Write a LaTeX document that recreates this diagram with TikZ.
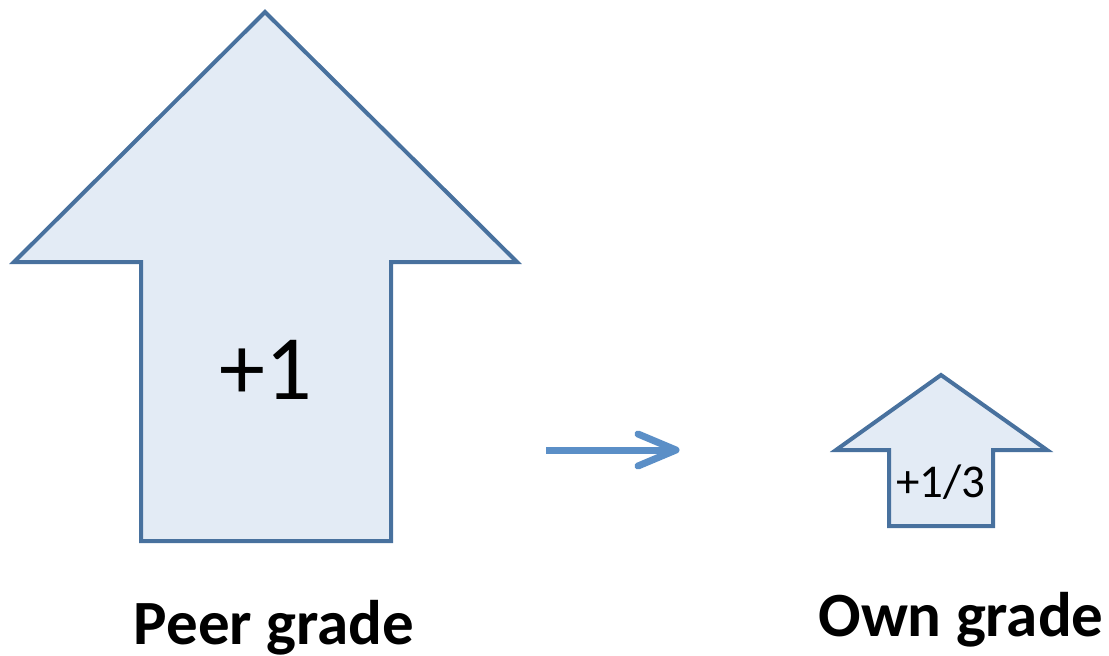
\documentclass[tikz,border=0pt]{standalone}
\usepackage{fontspec}
\setmainfont{Carlito}
\usetikzlibrary{calc}
\definecolor{outline}{RGB}{72,113,158}
\definecolor{fillblue}{RGB}{227,235,245}
\definecolor{linkblue}{RGB}{91,143,199}
\tikzset{
  uparrow/.style={draw=outline, fill=fillblue, line width=4pt, line join=miter},
  link/.style={draw=linkblue, line width=7pt},
  barb/.style={draw=linkblue, line width=7pt, line cap=round, line join=round},
  caption/.style={font=\bfseries\fontsize{63}{63}\selectfont, inner sep=0pt}
}
\begin{document}
\begin{tikzpicture}[x=1pt, y=-1pt]
  \useasboundingbox (0,0) rectangle (1109,656);
  % large block arrow
  \draw[uparrow] (265,12) -- (517,262) -- (391,262) -- (391,541)
    -- (141,541) -- (141,262) -- (14,262) -- cycle;
  \node[font=\fontsize{92}{92}\selectfont, inner sep=0pt] (peer) at (266,370) {+1};
  % small block arrow
  \draw[uparrow] (941,375) -- (1047,450) -- (993,450) -- (993,526)
    -- (889,526) -- (889,450) -- (836,450) -- cycle;
  \node[font=\fontsize{47}{47}\selectfont, inner sep=0pt] (own) at (941,482) {+1/3};
  % connector between the two, with an open rounded head
  \coordinate (from) at (546,450);
  \coordinate (to) at (676,450);
  \draw[link] (from) -- (to);
  \draw[barb] ($(to)+(-38,-16)$) -- (to) -- ($(to)+(-38,16)$);
  % captions
  \node[caption] (peerlabel) at (274,628) {Peer grade};
  \node[caption] (ownlabel) at (961,620) {Own grade};
\end{tikzpicture}
\end{document}
